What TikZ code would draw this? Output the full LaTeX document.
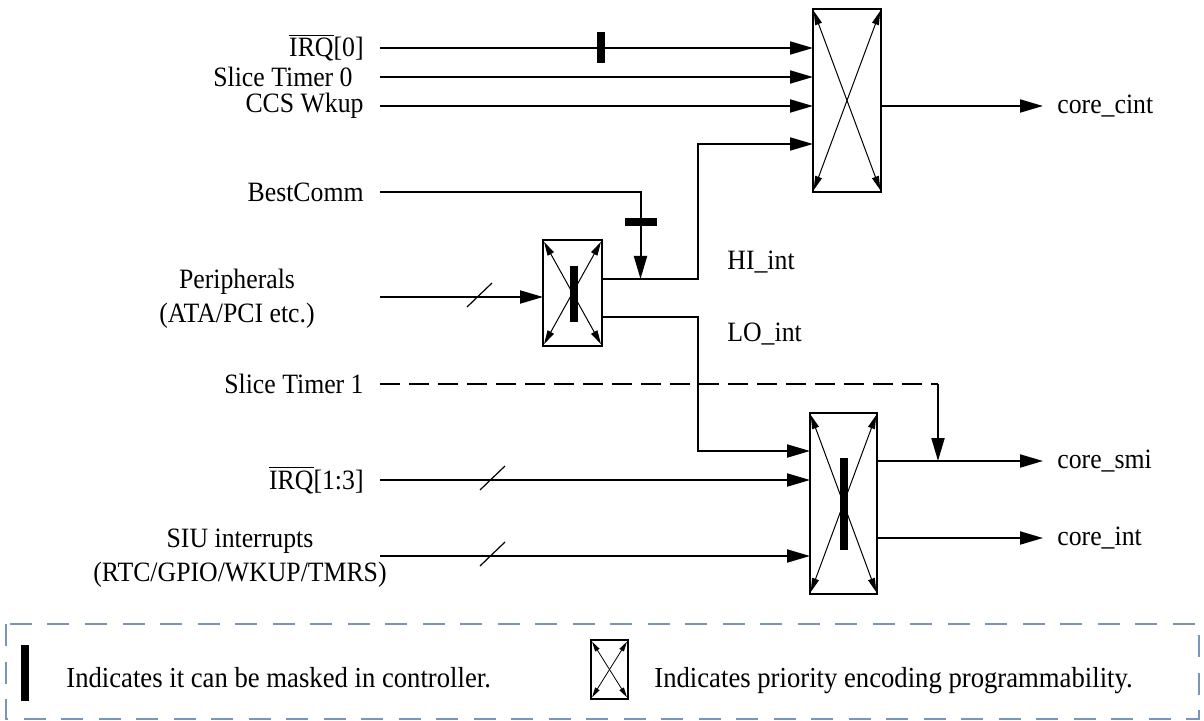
\documentclass[tikz,border=0pt]{standalone}
\usepackage{fontspec}
\setmainfont{Liberation Serif}[FakeStretch=0.92]
\usetikzlibrary{arrows.meta,positioning}

\definecolor{legblue}{RGB}{120,150,185}

\begin{document}
\begin{tikzpicture}[x=0.5pt, y=-0.5pt, >={Triangle[length=11.5pt,width=6.5pt]},
  every node/.style={font=\fontsize{14}{17}\selectfont},
  sig/.style={line width=1pt},
  enc/.style={draw, line width=1pt, inner sep=0pt, outer sep=0pt},
  diag/.style={line width=0.5pt, {Triangle[length=7pt,width=3.5pt]}-{Triangle[length=7pt,width=3.5pt]}, shorten <=1pt, shorten >=1pt},
  mask/.style={fill=black, inner sep=0pt, outer sep=0pt},
  lbl/.style={inner sep=0pt},
  leg/.style={inner sep=0pt, font=\fontsize{14.5}{17}\selectfont},
  slash/.style={line width=0.6pt}]
  \useasboundingbox (0,0) rectangle (1204,721);

  % priority encoders
  \node[enc, minimum width=34pt, minimum height=91.5pt] (top) at (847,100.5) {};
  \node[enc, minimum width=29.5pt, minimum height=53pt] (mid) at (572.5,293) {};
  \node[enc, minimum width=33.5pt, minimum height=90.5pt] (bot) at (843.5,503.5) {};
  \foreach \b in {top,mid,bot}{
    \draw[diag] (\b.north west) -- (\b.south east);
    \draw[diag] (\b.north east) -- (\b.south west);
  }

  % inputs
  \coordinate (s0) at (380,48);
  \coordinate (s1) at (380,77);
  \coordinate (s2) at (380,106);
  \coordinate (s3) at (380,192);
  \coordinate (s4) at (380,297);
  \coordinate (s5) at (380,384);
  \coordinate (s6) at (380,480);
  \coordinate (s7) at (380,556);
  \node[lbl, left=8pt of s0] (irq0) {$\overline{\hbox{IRQ}}$[0]};
  \node[lbl, left=13.5pt of s1] (st0) {Slice Timer 0};
  \node[lbl, left=8pt of s2] (ccs) {CCS Wkup};
  \node[lbl, left=8pt of s3] (bc) {BestComm};
  \node[lbl, align=center] (per) at (237,299) {Peripherals\\(ATA/PCI etc.)};
  \node[lbl, left=8pt of s5] (st1) {Slice Timer 1};
  \node[lbl, left=8pt of s6] (irq13) {$\overline{\hbox{IRQ}}$[1:3]};
  \node[lbl, align=center] (siu) at (240,558) {SIU interrupts\\(RTC/GPIO/WKUP/TMRS)};

  % HI / LO from the middle encoder
  \coordinate (hi) at ([yshift=7pt]mid.east);
  \coordinate (lo) at ([yshift=-12pt]mid.east);
  \coordinate (hj) at (698,144);
  \coordinate (lj) at (698,451);
  \node[lbl, anchor=base west] (hil) at (727,270) {HI\_int};
  \node[lbl, anchor=base west] (lol) at (727,342) {LO\_int};

  % outputs
  \coordinate (e0) at (1043,106);
  \coordinate (e1) at (1043,461);
  \coordinate (e2) at (1043,538);
  \coordinate (t1) at (938,461);
  \node[lbl, right=7pt of e0] (cint) {core\_cint};
  \node[lbl, right=7pt of e1] (smi) {core\_smi};
  \node[lbl, right=7pt of e2] (cint2) {core\_int};

  \draw[sig,->] (s0) -- (s0 -| top.west);
  \draw[sig,->] (s1) -- (s1 -| top.west);
  \draw[sig,->] (s2) -- (s2 -| top.west);
  \draw[sig,->] (hi) -| (hj) -- (hj -| top.west);
  \draw[sig,->] (s3) -| (640.5,279);
  \draw[sig,->] (s4) -- (s4 -| mid.west);
  \draw[sig,->] (lo) -| (lj) -- (lj -| bot.west);
  \draw[sig, dash pattern=on 10pt off 4.5pt] (s5) -- (s5 -| t1);
  \draw[sig,->] (s5 -| t1) -- (t1);
  \draw[sig,->] (s6) -- (s6 -| bot.west);
  \draw[sig,->] (s7) -- (s7 -| bot.west);
  \draw[sig,->] (top.east |- e0) -- (e0);
  \draw[sig,->] (bot.east |- e1) -- (e1);
  \draw[sig,->] (bot.east |- e2) -- (e2);

  % bus slashes
  \draw[slash] (467,307) -- (492,283);
  \draw[slash] (480,490) -- (505,466);
  \draw[slash] (480,566) -- (505,542);

  % mask bars
  \node[mask, minimum width=4pt, minimum height=15.5pt] (m0) at (601,47.7) {};
  \node[mask, minimum width=16pt, minimum height=4pt] (mbc) at (640.5,222) {};
  \node[mask, minimum width=4pt, minimum height=28pt] (mmid) at (574,294) {};
  \node[mask, minimum width=4pt, minimum height=46pt] (mbot) at (844,504) {};

  % legend
  \draw[legblue, line width=0.6pt, dash pattern=on 11pt off 7.75pt] (6,624) rectangle (1199,719);
  \node[mask, minimum width=4pt, minimum height=28pt] (lm) at (25,673) {};
  \node[leg, anchor=base west] (lt1) at (66,687) {Indicates it can be masked in controller.};
  \node[enc, minimum width=18.5pt, minimum height=29.5pt] (lenc) at (609.5,669.5) {};
  \draw[line width=0.4pt, {Triangle[length=5pt,width=2.5pt]}-{Triangle[length=5pt,width=2.5pt]}, shorten <=1pt, shorten >=1pt] (lenc.north west) -- (lenc.south east);
  \draw[line width=0.4pt, {Triangle[length=5pt,width=2.5pt]}-{Triangle[length=5pt,width=2.5pt]}, shorten <=1pt, shorten >=1pt] (lenc.north east) -- (lenc.south west);
  \node[leg, anchor=base west] (lt2) at (654,687) {Indicates priority encoding programmability.};
\end{tikzpicture}
\end{document}
